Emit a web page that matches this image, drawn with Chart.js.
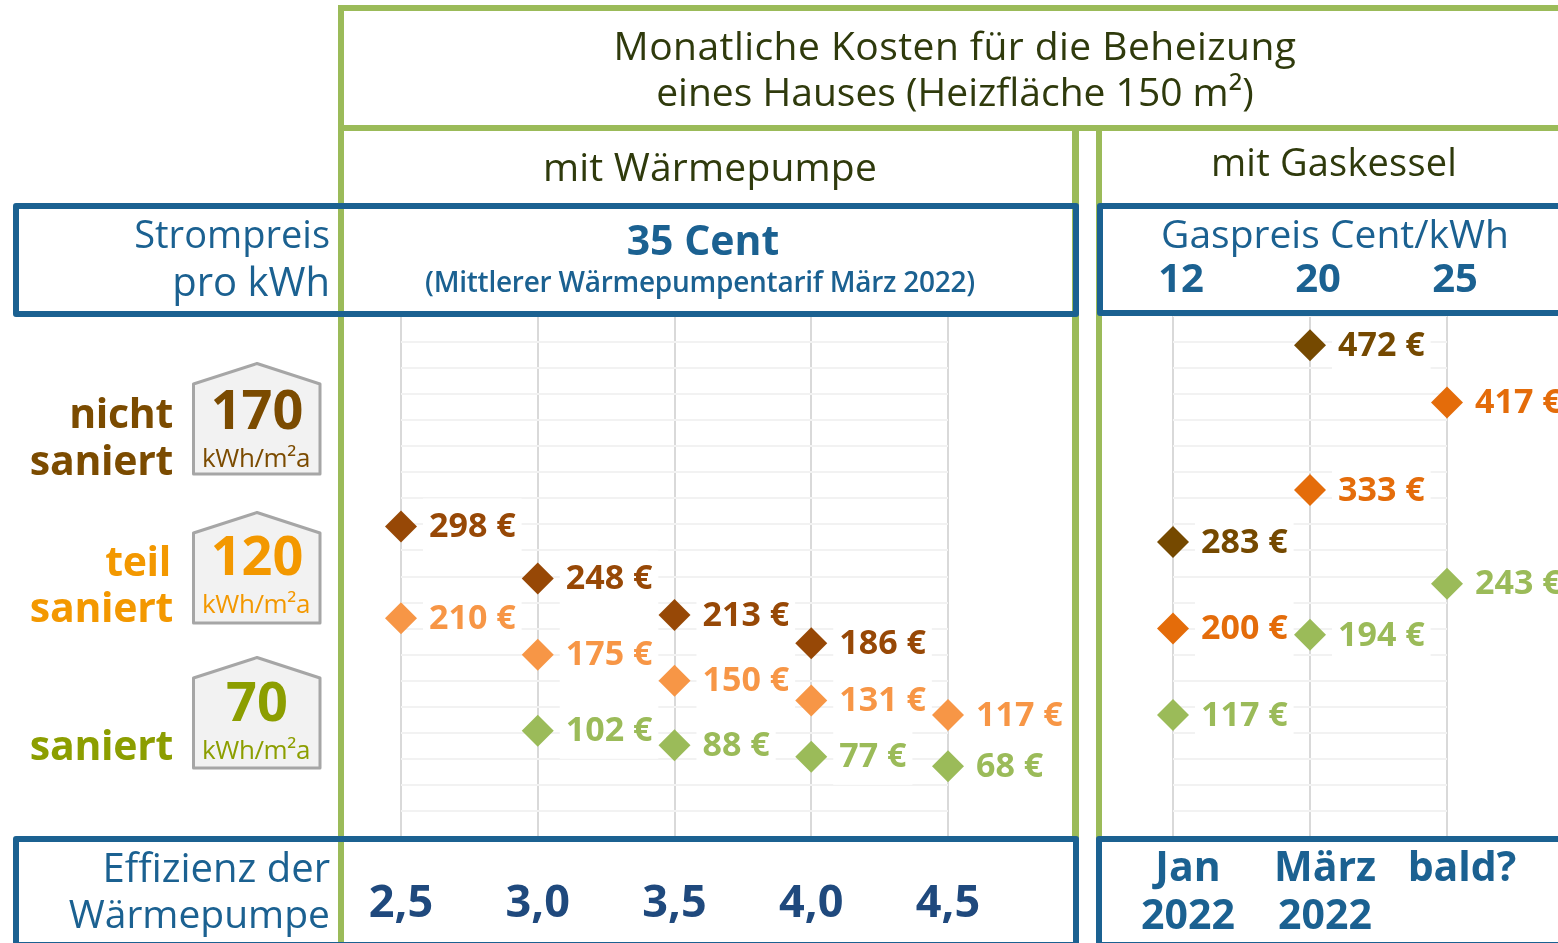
<!DOCTYPE html>
<html lang="de">
<head>
<meta charset="utf-8">
<title>Monatliche Kosten für die Beheizung</title>
<script src="https://cdn.jsdelivr.net/npm/chart.js@4"></script>
<style>
html,body{margin:0;padding:0;background:#fff;width:1558px;height:943px;overflow:hidden;font-family:"Open Sans",sans-serif}
canvas{position:absolute;top:0}
#c1{left:340px}
#c2{left:1100px}
.g{position:absolute;background:#9bbb59}
.b{position:absolute;border:6px solid #1b6191;border-radius:3px;box-sizing:border-box}
.t{position:absolute;white-space:nowrap;line-height:1;transform:translateY(-50%)}
.c{transform:translate(-50%,-50%);text-align:center}
.r{transform:translate(-100%,-50%);text-align:right}
.head{font-size:39px;color:#2f3a0c;letter-spacing:.2px}
.blue{font-size:39px;color:#1b6191}
.lab{font-size:41px;font-weight:700;letter-spacing:-.3px}
.num{font-size:54px;font-weight:700}
.unit{font-size:26px;letter-spacing:-.4px}
svg{position:absolute;left:0;top:0}
</style>
</head>
<body>
<canvas id="c1" width="735" height="943"></canvas>
<canvas id="c2" width="458" height="943"></canvas>

<div class="g" style="left:338px;top:5px;width:6px;height:938px"></div>
<div class="g" style="left:338px;top:5px;width:1220px;height:6px"></div>
<div class="g" style="left:338px;top:125px;width:1220px;height:6px"></div>
<div class="g" style="left:1072px;top:131px;width:7px;height:710px"></div>
<div class="g" style="left:1096px;top:131px;width:6px;height:710px"></div>

<div class="b" style="left:13px;top:203px;width:1066px;height:114px"></div>
<div class="b" style="left:1097px;top:203px;width:480px;height:113px"></div>
<div class="b" style="left:13px;top:836px;width:1066px;height:112px"></div>
<div class="b" style="left:1096px;top:836px;width:480px;height:112px"></div>

<svg width="340" height="800" viewBox="0 0 340 800">
  <polygon points="193.5,384 257,363.5 320,384 320,474 193.5,474" fill="#f2f2f2" stroke="#a6a6a6" stroke-width="3" stroke-linejoin="round"/>
  <polygon points="193.5,533 257,512.5 320,533 320,623 193.5,623" fill="#f2f2f2" stroke="#a6a6a6" stroke-width="3" stroke-linejoin="round"/>
  <polygon points="193.5,678 257,657.5 320,678 320,768 193.5,768" fill="#f2f2f2" stroke="#a6a6a6" stroke-width="3" stroke-linejoin="round"/>
</svg>

<div class="t c head" style="left:955px;top:44px;letter-spacing:.45px">Monatliche Kosten für die Beheizung</div>
<div class="t c head" style="left:955px;top:90px;letter-spacing:0">eines Hauses (Heizfläche 150 m²)</div>
<div class="t c head" style="left:710px;top:165px">mit Wärmepumpe</div>
<div class="t c head" style="left:1334px;top:161px;font-size:38px">mit Gaskessel</div>

<div class="t r blue" style="left:330px;top:233px;font-size:38px">Strompreis</div>
<div class="t r blue" style="left:330px;top:281px;font-size:40px">pro kWh</div>
<div class="t c" style="left:703px;top:239px;font-size:41px;font-weight:700;color:#1b6191">35 Cent</div>
<div class="t c" style="left:700px;top:281px;font-size:28px;font-weight:600;color:#1b6191;letter-spacing:-.25px">(Mittlerer Wärmepumpentarif März 2022)</div>
<div class="t c blue" style="left:1335px;top:232px">Gaspreis Cent/kWh</div>
<div class="t r blue" style="left:330px;top:867px;font-size:40px">Effizienz der</div>
<div class="t r blue" style="left:330px;top:912px">Wärmepumpe</div>

<div class="t r lab" style="left:173px;top:412px;color:#7b4b00">nicht</div>
<div class="t r lab" style="left:173px;top:459px;color:#7b4b00">saniert</div>
<div class="t r lab" style="left:171px;top:560px;color:#f39800">teil</div>
<div class="t r lab" style="left:173px;top:606px;color:#f39800">saniert</div>
<div class="t r lab" style="left:173px;top:744px;color:#8c9e00">saniert</div>

<div class="t c num" style="left:257px;top:408px;color:#7b4b00">170</div>
<div class="t c unit" style="left:256px;top:457px;color:#7b4b00">kWh/m²a</div>
<div class="t c num" style="left:257px;top:554px;color:#f39800">120</div>
<div class="t c unit" style="left:256px;top:603px;color:#f39800">kWh/m²a</div>
<div class="t c num" style="left:257px;top:700px;color:#8c9e00">70</div>
<div class="t c unit" style="left:256px;top:749px;color:#8c9e00">kWh/m²a</div>

<script>
const FONT = '"Open Sans", sans-serif';

const efficiencyLabels = ['2,5', '3,0', '3,5', '4,0', '4,5'];
const pumpUnrenovated = [298, 248, 213, 186, null];
const pumpPartial = [210, 175, 150, 131, 117];
const pumpRenovated = [null, 102, 88, 77, 68];

const gasPriceLabels = ['12', '20', '25'];
const gasPeriodLabels = [['Jan', '2022'], ['März', '2022'], ['bald?', '']];
const gasUnrenovated = [283, 472, null];
const gasPartial = [200, 333, 417];
const gasRenovated = [117, 194, 243];

const valueLabels = {
  id: 'valueLabels',
  beforeDatasetsDraw(chart) {
    const ctx = chart.ctx;
    ctx.save();
    ctx.font = '700 34px ' + FONT;
    ctx.fillStyle = '#fff';
    chart.data.datasets.forEach((ds, i) => {
      chart.getDatasetMeta(i).data.forEach((pt, j) => {
        if (ds.data[j] == null) return;
        const w = ctx.measureText(ds.data[j] + ' €').width;
        ctx.fillRect(pt.x + 22, pt.y - 28, w + 12, 56);
      });
    });
    ctx.restore();
  },
  afterDatasetsDraw(chart) {
    const ctx = chart.ctx;
    ctx.save();
    ctx.font = '700 34px ' + FONT;
    ctx.textBaseline = 'middle';
    ctx.textAlign = 'left';
    chart.data.datasets.forEach((ds, i) => {
      ctx.fillStyle = ds.backgroundColor;
      chart.getDatasetMeta(i).data.forEach((pt, j) => {
        if (ds.data[j] == null) return;
        ctx.fillText(ds.data[j] + ' €', pt.x + 28, pt.y + 1);
      });
    });
    ctx.restore();
  }
};

function series(label, data, color) {
  return {
    label, data, backgroundColor: color, borderColor: color, showLine: false,
    pointStyle: 'rectRot', pointRadius: 16, pointHoverRadius: 16, pointBorderWidth: 0,
    clip: false, spanGaps: false
  };
}

function fixedHeight(h) {
  return s => { s.height = h; s.paddingLeft = 0; s.paddingRight = 0; };
}

const valueAxis = {
  min: 0, max: 500,
  afterFit: s => { s.width = 0; },
  ticks: { display: false, stepSize: 25 },
  border: { display: false },
  grid: { color: '#f2f2f2', lineWidth: 2, drawTicks: false }
};
const baseOptions = {
  responsive: false, animation: false, events: [],
  plugins: { legend: { display: false }, tooltip: { enabled: false } }
};

new Chart(document.getElementById('c1'), {
  type: 'line',
  data: {
    labels: efficiencyLabels,
    datasets: [
      series('nicht saniert', pumpUnrenovated, '#974806'),
      series('teil saniert', pumpPartial, '#f79646'),
      series('saniert', pumpRenovated, '#9bbb59')
    ]
  },
  plugins: [valueLabels],
  options: {
    ...baseOptions,
    layout: { padding: { left: 61, right: 127, top: 316, bottom: 0 } },
    scales: {
      x: {
        offset: false,
        afterFit: fixedHeight(106),
        border: { display: false },
        grid: { color: '#d9d9d9', lineWidth: 2, drawTicks: false },
        ticks: {
          autoSkip: false, maxRotation: 0, padding: 40, color: '#1f497d',
          font: { family: FONT, size: 45, weight: '700', lineHeight: 1.2 }
        }
      },
      y: valueAxis
    }
  }
});

new Chart(document.getElementById('c2'), {
  type: 'line',
  data: {
    labels: gasPeriodLabels,
    datasets: [
      series('nicht saniert', gasUnrenovated, '#754900'),
      series('teil saniert', gasPartial, '#e46c0a'),
      series('saniert', gasRenovated, '#9bbb59')
    ]
  },
  plugins: [valueLabels],
  options: {
    ...baseOptions,
    layout: { padding: { left: 73, right: 111, top: 0, bottom: 0 } },
    scales: {
      x: {
        offset: false,
        afterFit: fixedHeight(106),
        border: { display: false },
        grid: { color: '#d9d9d9', lineWidth: 2, drawTicks: false },
        ticks: {
          autoSkip: false, maxRotation: 0, padding: 9, labelOffset: 15, color: '#1b6191',
          font: { family: FONT, size: 41, weight: '700', lineHeight: 1.16 }
        }
      },
      xTop: {
        type: 'category', position: 'top', labels: gasPriceLabels, offset: false,
        afterFit: fixedHeight(316),
        border: { display: false },
        grid: { display: false, drawTicks: false },
        ticks: {
          autoSkip: false, maxRotation: 0, padding: 11, labelOffset: 8, color: '#1b6191',
          font: { family: FONT, size: 40, weight: '700', lineHeight: 1.2 }
        }
      },
      y: valueAxis
    }
  }
});
</script>
</body>
</html>
